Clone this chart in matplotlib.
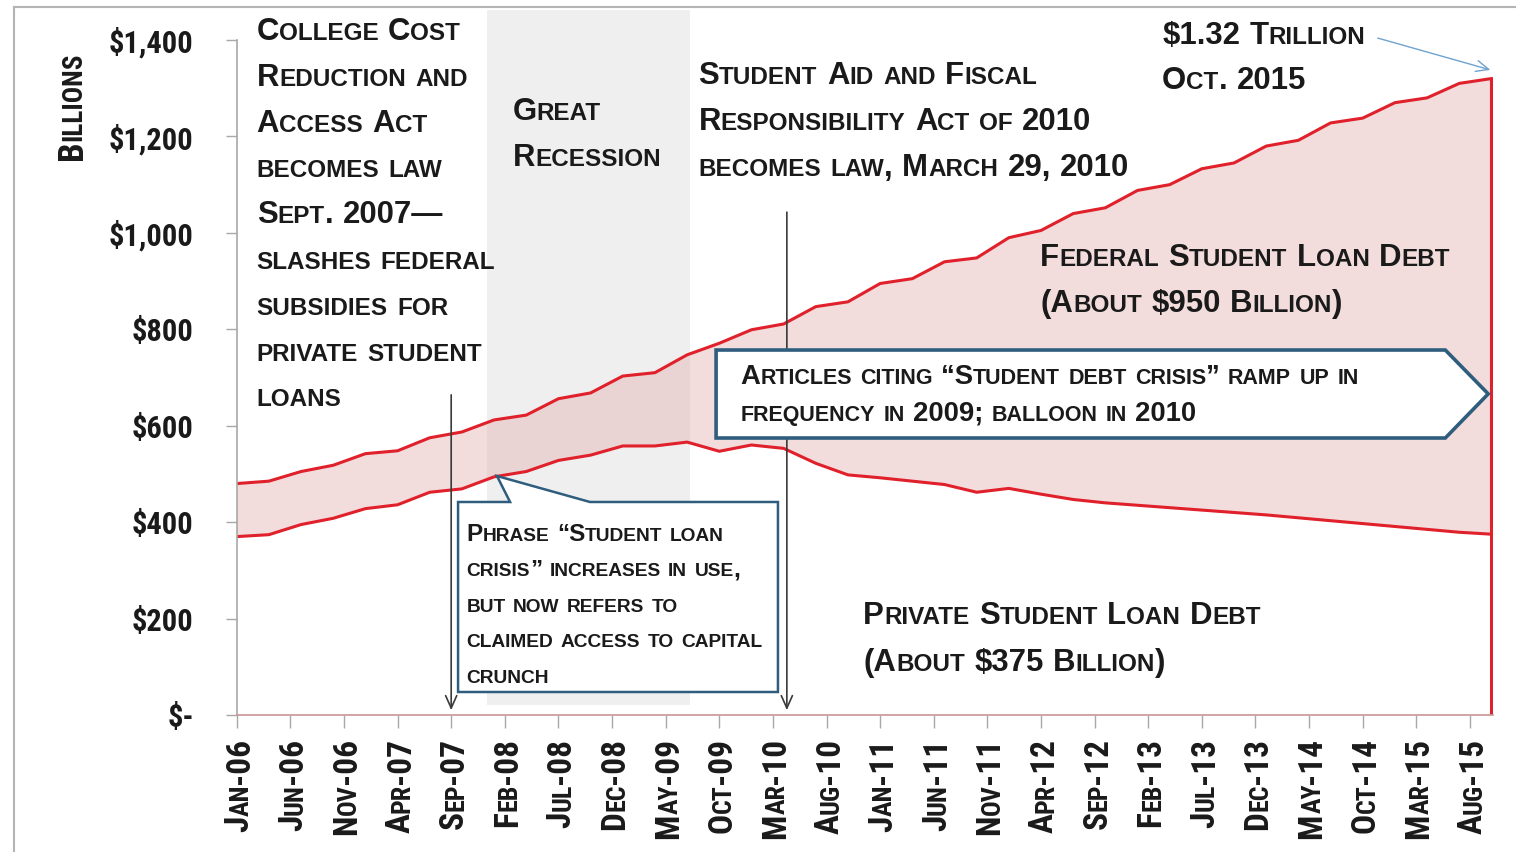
import numpy as np
import pandas as pd
import matplotlib
matplotlib.use("Agg")
import matplotlib.pyplot as plt
from itertools import groupby
from matplotlib import font_manager
from matplotlib.patches import Polygon
from matplotlib.lines import Line2D
from matplotlib.transforms import IdentityTransform


# #############################################################################
# Data: quarterly student loan balances, $ billions (Q1 2006 .. Q4 2015)
quarters = pd.period_range("2006Q1", "2015Q4", freq="Q")

total_debt = [480, 485, 505, 518,
              542, 548, 575, 587,
              612, 622, 656, 668,
              703, 710, 747, 771,
              799, 811, 847, 857,
              895, 905, 940, 948,
              990, 1005, 1040, 1052,
              1088, 1100, 1133, 1145,
              1180, 1192, 1228, 1238,
              1270, 1280, 1310, 1320]

private_debt = [370, 374, 395, 408,
                428, 436, 462, 469,
                494, 505, 528, 539,
                558, 558, 566, 547,
                560, 553, 522, 498,
                492, 485, 478, 462,
                470, 458, 447, 440,
                435, 430, 425, 420,
                415, 409, 403, 397,
                391, 385, 379, 375]

tick_labels = ["Jan-06", "Jun-06", "Nov-06", "Apr-07", "Sep-07", "Feb-08",
               "Jul-08", "Dec-08", "May-09", "Oct-09", "Mar-10", "Aug-10",
               "Jan-11", "Jun-11", "Nov-11", "Apr-12", "Sep-12", "Feb-13",
               "Jul-13", "Dec-13", "May-14", "Oct-14", "Mar-15", "Aug-15"]

y_ticks = [0, 200, 400, 600, 800, 1000, 1200, 1400]
y_labels = ["$-", "$200", "$400", "$600", "$800", "$1,000", "$1,200", "$1,400"]

# months since Jan 2006
def month_index(ts):
      return (ts.year - 2006) * 12 + ts.month - 1

months = np.array([month_index(q.start_time) for q in quarters])
tick_months = [month_index(pd.to_datetime(t, format="%b-%y")) for t in tick_labels]

recession = (23.3, 42.3)     # Dec 2007 .. Jun 2009
ccraa_month = 20             # Sept 2007
safra_month = 51.3           # spring 2010

RED = "#e0202a"
PINK = (0.89, 0.70, 0.70)
BOX = "#2f5d7e"
TEXT = "#1a1a1a"


# #############################################################################
# Fonts: Arial-like bold for the notes, a bold narrow face for the axes
def weight_of(f):
      w = f.weight
      return w if isinstance(w, int) else font_manager.weight_dict.get(w, 400)

fonts = font_manager.fontManager.ttflist
names = {f.name for f in fonts}
WIDE = "Liberation Sans" if "Liberation Sans" in names else "DejaVu Sans"
bold_narrow = {f.name for f in fonts if weight_of(f) >= 600
               and ("Narrow" in f.name or "Condensed" in f.name)}
prefer = ["Liberation Sans Narrow", "Arial Narrow", "Roboto Condensed",
          "Open Sans Condensed"]
narrow = [n for n in prefer if n in bold_narrow] + sorted(bold_narrow)
NARROW = narrow[0] if narrow else WIDE
SQUEEZE = 1.0 if narrow else 0.84     # shrink axis text when no narrow face


fig = plt.figure(figsize=(15.16, 8.52), dpi=100)
ax = fig.add_axes([0.15614, 0.16080, 0.82836, 0.79225])
renderer = fig.canvas.get_renderer()


# #############################################################################
# Small caps text drawn piece by piece (capitals big, lower case small)
def caps(x, y, text, big, small, trans=None, step=0, rot=0, family=WIDE,
         align="left", dx=0, dy=0, color=TEXT):
      trans = trans or ax.transData
      x0, y0 = trans.transform((x, y))
      x0 += dx
      y0 += dy
      px = fig.dpi / 72.0
      for i, line in enumerate(text.split("\n")):
            pieces = []
            for j, word in enumerate(line.split(" ")):
                  if j:
                        pieces.append((None, 0.3 * big * px))
                  for low, grp in groupby(word, str.islower):
                        pieces.append(("".join(grp).upper(), small if low else big))
            arts, widths = [], []
            for s, size in pieces:
                  if s is None:
                        arts.append(None)
                        widths.append(size)
                        continue
                  t = fig.text(0, 0, s, fontsize=size, fontweight="bold",
                               family=family, color=color,
                               transform=IdentityTransform(), ha="left",
                               va="baseline", rotation_mode="anchor")
                  arts.append(t)
                  widths.append(t.get_window_extent(renderer).width)
            pos = 0 if align == "left" else -sum(widths)
            for t, w in zip(arts, widths):
                  if t is not None:
                        if rot:
                              t.set_rotation(rot)
                              t.set_position((x0 - i * step, y0 + pos))
                        else:
                              t.set_position((x0 + pos, y0 - i * step))
                  pos += w


# #############################################################################
# Areas and lines
ax.axvspan(*recession, ymin=0.015, ymax=1.044, facecolor="#efefef",
           edgecolor="none", zorder=0, clip_on=False)
ax.fill_between(months, private_debt, total_debt, facecolor=PINK, alpha=0.45,
                lw=0, zorder=1)
ax.plot(months, total_debt, color=RED, lw=2.2, zorder=2)
ax.plot(months, private_debt, color=RED, lw=2.2, zorder=2)
ax.vlines(months[-1], 0, total_debt[-1], color=RED, lw=2.2, zorder=2)

ax.set_xlim(0, 117.1)
ax.set_ylim(0, 1400)
for side in ["top", "right"]:
      ax.spines[side].set_visible(False)
ax.spines["left"].set_color("#a8a8a8")
ax.spines["bottom"].set_color("#c99595")
ax.spines["left"].set_linewidth(1.2)
ax.spines["bottom"].set_linewidth(1.2)

ax.set_yticks(y_ticks)
ax.set_yticklabels(y_labels)
ax.tick_params(axis="y", length=8, width=1, color="#a8a8a8", pad=23,
               labelsize=22 * SQUEEZE, labelcolor=TEXT)
for lbl in ax.get_yticklabels():
      lbl.set_fontfamily(NARROW)
      lbl.set_fontweight("bold")

ax.set_xticks(tick_months)
ax.set_xticklabels([])
ax.tick_params(axis="x", length=9, width=1, color="#a8a8a8")

# rotated month labels and axis title
big = 24 * SQUEEZE
for m, lab in zip(tick_months, tick_labels):
      caps(m, 0, lab, big, 0.78 * big, trans=ax.get_xaxis_transform(), rot=90,
           family=NARROW, align="right", dx=0.36 * big * fig.dpi / 72, dy=-23)

big = 25 * SQUEEZE
caps(0, 1, "Billions", big, 0.78 * big, trans=ax.transAxes, rot=90,
     family=NARROW, dx=-155, dy=-120)


# #############################################################################
# Call-out shapes and arrows
box1 = Polygon([(20.64, 441.8), (25.49, 441.8), (24.27, 495.7), (32.94, 441.8),
                (50.47, 441.8), (50.47, 47.7), (20.64, 47.7)], closed=True,
               facecolor="white", edgecolor=BOX, lw=1.8, zorder=3)
ax.add_patch(box1)

chevron = Polygon([(44.7, 757), (112.7, 757), (116.7, 666), (112.7, 574.5),
                   (44.7, 574.5)], closed=True, facecolor="white",
                  edgecolor=BOX, lw=2.6, zorder=3)
ax.add_patch(chevron)

for m, top in [(ccraa_month, 664), (safra_month, 1043)]:
      ax.annotate("", xy=(m, 10), xytext=(m, top), annotation_clip=False,
                  arrowprops=dict(arrowstyle="->,head_length=0.9,head_width=0.4",
                                  color="#3a3a3a", lw=1.2, shrinkA=0, shrinkB=0),
                  zorder=2.5)

ax.annotate("", xy=(116.9, 1338), xytext=(106.4, 1404), annotation_clip=False,
            arrowprops=dict(arrowstyle="->,head_length=0.9,head_width=0.4",
                            color="#6fa3cf", lw=1.0, shrinkA=0, shrinkB=0))


# #############################################################################
# Annotation text
caps(1.86, 1400, "College Cost\nReduction and\nAccess Act\nbecomes law\n"
     "Sept. 2007\u2014\nslashes federal\nsubsidies for\nprivate student\nloans",
     22.4, 17.5, step=45.8)
caps(25.72, 1234, "Great\nRecession", 22.4, 17.5, step=46)
caps(43.06, 1309, "Student Aid and Fiscal\nResponsibility Act of 2010\n"
     "becomes law, March 29, 2010", 22.4, 17.5, step=46)
caps(86.3, 1392, "$1.32 Trillion\nOct. 2015", 22.4, 17.5, step=45)
caps(74.93, 931, "Federal Student Loan Debt\n(About $950 Billion)",
     22.4, 17.5, step=46)
caps(58.43, 189, "Private Student Loan Debt\n(About $375 Billion)",
     22.4, 17.5, step=47)
caps(21.44, 361, "Phrase \u201cStudent loan\ncrisis\u201d increases in use,\n"
     "but now refers to\nclaimed access to capital\ncrunch",
     17.5, 13.8, step=35.5)
caps(46.97, 687, "Articles citing \u201cStudent debt crisis\u201d ramp up in\n"
     "frequency in 2009; balloon in 2010", 19.8, 15.5, step=37)

# thin frame of the original slide
fig.add_artist(Line2D([14 / 1516, 14 / 1516], [0, 845 / 852],
                      transform=fig.transFigure, color="#b4b4b4", lw=1.5))
fig.add_artist(Line2D([14 / 1516, 1], [845 / 852, 845 / 852],
                      transform=fig.transFigure, color="#b4b4b4", lw=1.5))

fig.savefig("out.png", dpi=100)
